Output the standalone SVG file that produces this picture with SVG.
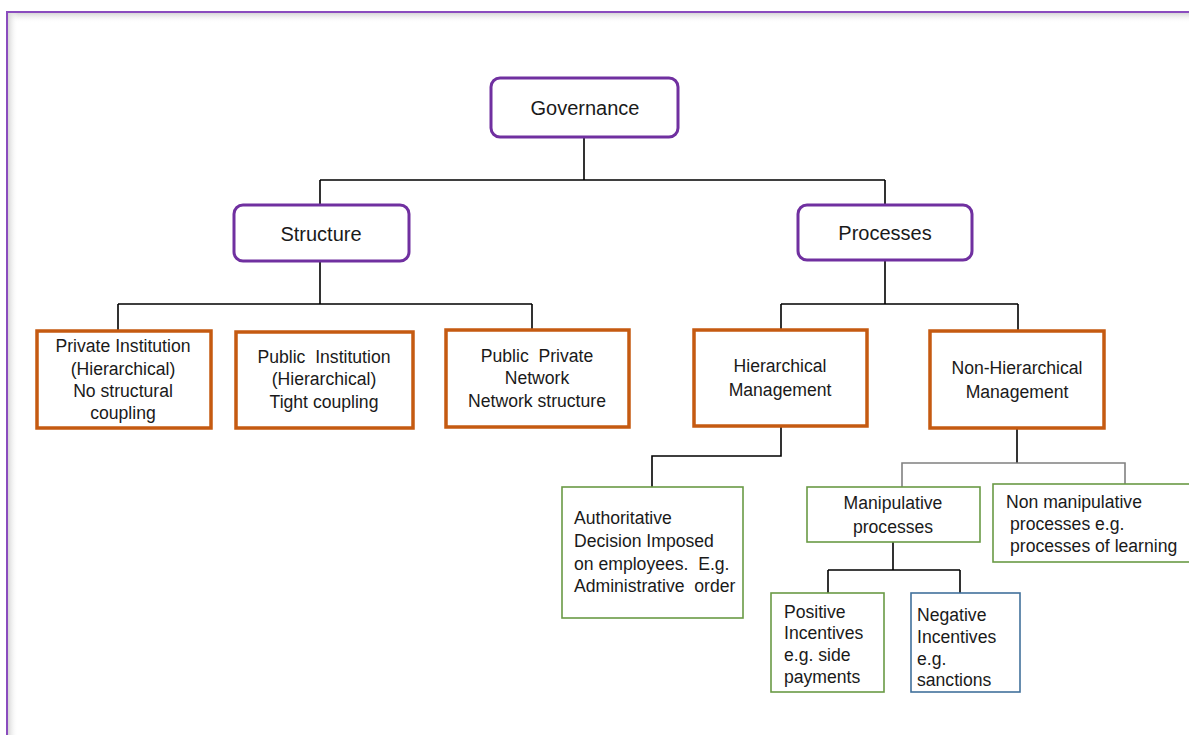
<svg xmlns="http://www.w3.org/2000/svg" width="1189" height="735" viewBox="0 0 1189 735">
  <defs>
    <linearGradient id="shadeTop" x1="0" y1="0" x2="0" y2="1">
      <stop offset="0" stop-color="#d6d6d6"/>
      <stop offset="1" stop-color="#ffffff" stop-opacity="0"/>
    </linearGradient>
    <linearGradient id="shadeLeft" x1="0" y1="0" x2="1" y2="0">
      <stop offset="0" stop-color="#d6d6d6"/>
      <stop offset="1" stop-color="#ffffff" stop-opacity="0"/>
    </linearGradient>
  </defs>
  <style>
    text { font-family: "Liberation Sans", Arial, sans-serif; fill: #1a1a1a; white-space: pre; }
    .head { font-size: 20px; text-anchor: middle; }
    .mid { font-size: 17.6px; text-anchor: middle; }
    .left { font-size: 17.6px; }
    .top { fill: #ffffff; stroke: #7030A0; stroke-width: 3; }
    .org { fill: #ffffff; stroke: #C55A11; stroke-width: 3.5; }
    .grn { fill: #ffffff; stroke: #6A9A45; stroke-width: 1.6; }
    .blu { fill: #ffffff; stroke: #41719C; stroke-width: 1.6; }
    .wire { fill: none; stroke: #000000; stroke-width: 1.6; }
    .wire-gray { fill: none; stroke: #808080; stroke-width: 1.6; }
  </style>

  <rect width="1189" height="735" fill="#ffffff"/>

  <!-- page frame with soft inner shade -->
  <g id="frame">
    <rect x="8" y="13" width="1181" height="10" fill="url(#shadeTop)"/>
    <rect x="8" y="13" width="10" height="722" fill="url(#shadeLeft)"/>
    <path d="M7,735 V12 H1189" fill="none" stroke="#8A4CBE" stroke-width="2"/>
  </g>

  <!-- connectors -->
  <g id="connectors">
    <path class="wire" d="M584,137 V180 M320,180 H885 M320,180 V205 M885,180 V205"/>
    <path class="wire" d="M320,261 V304 M118,304 H532 M118,304 V331 M532,304 V330"/>
    <path class="wire" d="M885,260 V304 M781,304 H1018 M781,304 V330 M1018,304 V331"/>
    <path class="wire" d="M781,426 V456 H652 V487"/>
    <path class="wire" d="M1017,428 V463"/>
    <path class="wire-gray" d="M902,487 V463 H1125 V484"/>
    <path class="wire" d="M893,542 V570 M828,570 H960 M828,570 V593 M960,570 V593"/>
  </g>

  <g id="governance">
    <rect class="top" x="491" y="78" width="187" height="59" rx="9"/>
    <text class="head" x="585" y="115">Governance</text>
  </g>

  <g id="structure">
    <rect class="top" x="234" y="205" width="175" height="56" rx="9"/>
    <text class="head" x="321" y="241">Structure</text>
  </g>

  <g id="processes">
    <rect class="top" x="798" y="205" width="174" height="55" rx="9"/>
    <text class="head" x="885" y="240">Processes</text>
  </g>

  <g id="private-institution">
    <rect class="org" x="37" y="331" width="174" height="97"/>
    <text class="mid" x="123" y="352">Private Institution</text>
    <text class="mid" x="123" y="375">(Hierarchical)</text>
    <text class="mid" x="123" y="397">No structural</text>
    <text class="mid" x="123" y="419">coupling</text>
  </g>

  <g id="public-institution">
    <rect class="org" x="236" y="332" width="177" height="96"/>
    <text class="mid" x="324" y="363">Public  Institution</text>
    <text class="mid" x="324" y="385">(Hierarchical)</text>
    <text class="mid" x="324" y="408">Tight coupling</text>
  </g>

  <g id="public-private-network">
    <rect class="org" x="446" y="330" width="183" height="97"/>
    <text class="mid" x="537" y="362">Public  Private</text>
    <text class="mid" x="537" y="384">Network</text>
    <text class="mid" x="537" y="407">Network structure</text>
  </g>

  <g id="hierarchical-management">
    <rect class="org" x="694" y="330" width="173" height="96"/>
    <text class="mid" x="780" y="372">Hierarchical</text>
    <text class="mid" x="780" y="396">Management</text>
  </g>

  <g id="non-hierarchical-management">
    <rect class="org" x="930" y="331" width="174" height="97"/>
    <text class="mid" x="1017" y="374">Non-Hierarchical</text>
    <text class="mid" x="1017" y="398">Management</text>
  </g>

  <g id="authoritative-decision">
    <rect class="grn" x="562" y="487" width="181" height="131"/>
    <text class="left" x="574" y="524">Authoritative</text>
    <text class="left" x="574" y="547">Decision Imposed</text>
    <text class="left" x="574" y="570">on employees.  E.g.</text>
    <text class="left" x="574" y="592">Administrative  order</text>
  </g>

  <g id="manipulative-processes">
    <rect class="grn" x="807" y="487" width="173" height="55"/>
    <text class="mid" x="893" y="509">Manipulative</text>
    <text class="mid" x="893" y="533">processes</text>
  </g>

  <g id="non-manipulative-processes">
    <rect class="grn" x="993" y="484" width="197" height="78"/>
    <text class="left" x="1006" y="508">Non manipulative</text>
    <text class="left" x="1010" y="530">processes e.g.</text>
    <text class="left" x="1010" y="552">processes of learning</text>
  </g>

  <g id="positive-incentives">
    <rect class="grn" x="771" y="593" width="113" height="99"/>
    <text class="left" x="784" y="618">Positive</text>
    <text class="left" x="784" y="639">Incentives</text>
    <text class="left" x="784" y="661">e.g. side</text>
    <text class="left" x="784" y="683">payments</text>
  </g>

  <g id="negative-incentives">
    <rect class="blu" x="911" y="593" width="109" height="99"/>
    <text class="left" x="917" y="621">Negative</text>
    <text class="left" x="917" y="643">Incentives</text>
    <text class="left" x="917" y="665">e.g.</text>
    <text class="left" x="917" y="686">sanctions</text>
  </g>
</svg>
